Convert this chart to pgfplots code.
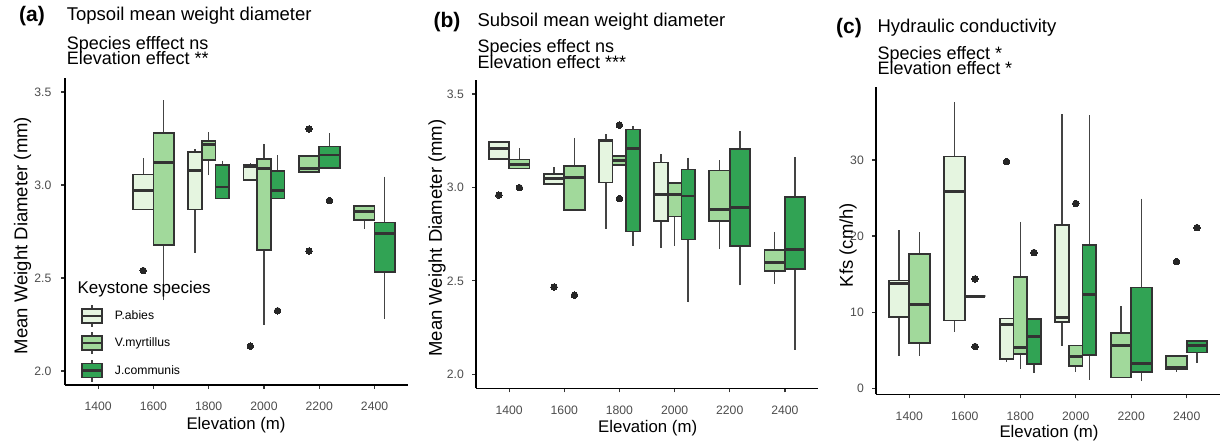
\documentclass[border=0pt]{standalone}
\usepackage{pgfplots}
\pgfplotsset{compat=1.18}
\usepgfplotslibrary{statistics}
\usepackage{fontspec}
\setmainfont{Liberation Sans}
\definecolor{pA}{HTML}{E5F5E0}
\definecolor{pV}{HTML}{A1D99B}
\definecolor{pJ}{HTML}{31A354}
\definecolor{edge}{HTML}{333333}
\definecolor{whisk}{HTML}{444444}
\definecolor{labc}{HTML}{4D4D4D}
\definecolor{dotc}{HTML}{262626}
\newcommand{\bx}[8]{\addplot[bxs, fill=#1, boxplot prepared={draw position=#2, box extend=#3, lower whisker=#4, lower quartile=#5, median=#6, upper quartile=#7, upper whisker=#8}] coordinates {};}
\pgfplotsset{
  bxs/.style={forget plot, draw=edge, line width=1.7pt, solid, mark=none,
    boxplot/draw direction=y, boxplot/whisker extend=0,
    boxplot/every box/.style={draw=edge, line width=1.7pt},
    boxplot/every whisker/.style={line width=1.4pt, draw=whisk},
    boxplot/every median/.style={draw=edge, line width=2.9pt}},
  outl/.style={forget plot, only marks, mark=*, mark size=3.3pt, mark options={fill=dotc, draw=dotc, line width=0pt}},
  panel/.style={scale only axis, anchor=south west,
    xmin=1280, xmax=2520,
    axis x line*=bottom, axis y line*=left,
    axis line style={black, line width=1.3pt, -},
    tick align=outside, major tick length=4pt,
    tick style={color=edge, line width=1.2pt},
    xtick={1400,1600,1800,2000,2200,2400},
    xticklabels={1400,1600,1800,2000,2200,2400},
    tick label style={font=\fontsize{12.2}{14}\selectfont, text=labc, inner sep=0pt},
    xticklabel style={anchor=base, yshift=-22pt},
    clip=false},
  boxkey/.style={legend image code/.code={
    \draw[draw=whisk, line width=1.4pt] (10pt,-11pt)--(10pt,11pt);
    \draw[fill=#1, draw=edge, line width=1.7pt] (0pt,-7pt) rectangle (20pt,7pt);
    \draw[draw=edge, line width=2.4pt] (0pt,0pt)--(20pt,0pt);}}
}
\begin{document}
\begin{tikzpicture}[x=1pt,y=1pt]
\path[use as bounding box] (0,0) rectangle (1222,446);
% ---------------- (a)
\begin{axis}[panel, at={(65pt,61pt)}, width=342.7pt, height=307pt,
  ymin=1.925, ymax=3.575, ytick={2,2.5,3,3.5}, yticklabels={2.0,2.5,3.0,3.5},
  yticklabel style={anchor=east, xshift=-9.5pt},
  legend style={at={(axis description cs:0.0458,0.264)}, anchor=north west, draw=none, fill=none,
    inner sep=0pt, row sep=4pt, column sep=11.7pt,
    nodes={inner sep=0pt, anchor=west, font=\fontsize{12.2}{14}\selectfont}},
  legend cell align=left]
\bx{pA}{1563}{74}{2.869}{2.869}{2.968}{3.057}{3.147}
\bx{pV}{1637}{74}{2.380}{2.677}{3.120}{3.280}{3.455}
\bx{pA}{1750.67}{49.33}{2.636}{2.869}{3.079}{3.176}{3.195}
\bx{pV}{1800}{49.33}{3.052}{3.133}{3.219}{3.237}{3.283}
\bx{pJ}{1849.33}{49.33}{2.928}{2.928}{2.989}{3.106}{3.131}
\bx{pA}{1950.67}{49.33}{3.027}{3.027}{3.100}{3.106}{3.118}
\bx{pV}{2000}{49.33}{2.249}{2.652}{3.090}{3.138}{3.222}
\bx{pJ}{2049.33}{49.33}{2.928}{2.928}{2.968}{3.077}{3.161}
\bx{pV}{2163}{74}{3.070}{3.070}{3.088}{3.156}{3.156}
\bx{pJ}{2237}{74}{3.093}{3.093}{3.161}{3.206}{3.278}
\bx{pV}{2363}{74}{2.765}{2.812}{2.857}{2.887}{2.892}
\bx{pJ}{2437}{74}{2.280}{2.534}{2.738}{2.799}{3.045}
\addplot[outl] coordinates {(1563,2.54) (1950.67,2.134) (2049.33,2.324) (2163,3.301) (2163,2.645) (2237,2.916)};
\addlegendimage{boxkey=pA}\addlegendentry{P.abies}
\addlegendimage{boxkey=pV}\addlegendentry{V.myrtillus}
\addlegendimage{boxkey=pJ}\addlegendentry{J.communis}
\node[anchor=base west, font=\fontsize{17}{20}\selectfont, inner sep=0pt] at (axis description cs:0.036,0.2987) {Keystone species};
\end{axis}
% ---------------- (b)
\begin{axis}[panel, at={(476pt,57.7pt)}, width=342pt, height=308.3pt,
  ymin=1.925, ymax=3.575, ytick={2,2.5,3,3.5}, yticklabels={2.0,2.5,3.0,3.5},
  yticklabel style={anchor=east, xshift=-8pt}]
\bx{pA}{1363}{74}{3.151}{3.151}{3.208}{3.244}{3.246}
\bx{pV}{1437}{74}{3.101}{3.101}{3.121}{3.149}{3.210}
\bx{pA}{1563}{74}{3.020}{3.020}{3.049}{3.072}{3.112}
\bx{pV}{1637}{74}{2.881}{2.881}{3.053}{3.113}{3.267}
\bx{pA}{1750.67}{49.33}{2.777}{3.027}{3.253}{3.255}{3.285}
\bx{pV}{1800}{49.33}{3.121}{3.121}{3.142}{3.169}{3.169}
\bx{pJ}{1849.33}{49.33}{2.686}{2.764}{3.206}{3.310}{3.330}
\bx{pA}{1950.67}{49.33}{2.678}{2.820}{2.961}{3.133}{3.180}
\bx{pV}{2000}{49.33}{2.686}{2.845}{2.961}{3.022}{3.026}
\bx{pJ}{2049.33}{49.33}{2.385}{2.721}{2.954}{3.096}{3.160}
\bx{pV}{2163}{74}{2.668}{2.820}{2.883}{3.090}{3.146}
\bx{pJ}{2237}{74}{2.476}{2.686}{2.895}{3.205}{3.303}
\bx{pV}{2363}{74}{2.485}{2.551}{2.600}{2.666}{2.763}
\bx{pJ}{2437}{74}{2.131}{2.562}{2.666}{2.949}{3.162}
\addplot[outl] coordinates {(1363,2.959) (1437,2.999) (1563,2.467) (1637,2.424) (1800,3.334) (1800,2.940)};
\end{axis}
% ---------------- (c)
\begin{axis}[panel, at={(876pt,51.7pt)}, width=344pt, height=307pt,
  ymin=-0.8, ymax=39.55, ytick={0,10,20,30}, yticklabels={0,10,20,30},
  yticklabel style={anchor=east, xshift=-8pt}]
\bx{pA}{1363}{74}{4.25}{9.33}{13.71}{14.15}{20.8}
\bx{pV}{1437}{74}{4.25}{5.91}{10.95}{17.6}{20.5}
\bx{pA}{1563}{74}{7.45}{8.89}{25.84}{30.44}{37.6}
\bx{pJ}{1637}{74}{12.09}{12.09}{12.09}{12.09}{12.09}
\bx{pA}{1750.67}{49.33}{3.5}{3.81}{8.41}{9.15}{9.15}
\bx{pV}{1800}{49.33}{2.58}{4.51}{5.34}{14.59}{21.9}
\bx{pJ}{1849.33}{49.33}{1.97}{3.15}{6.83}{9.07}{9.07}
\bx{pA}{1950.67}{49.33}{5.61}{8.72}{9.24}{21.46}{36.05}
\bx{pV}{2000}{49.33}{2.15}{2.93}{4.16}{5.61}{5.61}
\bx{pJ}{2049.33}{49.33}{1.10}{4.38}{12.35}{18.79}{35.87}
\bx{pV}{2163}{74}{1.40}{1.40}{5.61}{7.23}{10.82}
\bx{pJ}{2237}{74}{0.92}{2.10}{3.24}{13.23}{24.92}
\bx{pV}{2363}{74}{2.19}{2.54}{2.76}{4.25}{4.25}
\bx{pJ}{2437}{74}{3.37}{4.69}{5.61}{6.22}{6.22}
\addplot[outl] coordinates {(1637,14.37) (1637,5.48) (1750.67,29.79) (1849.33,17.83) (2000,24.27) (2363,16.64) (2437,21.11)};
\end{axis}
% ---------------- texts
\tikzset{ttl/.style={anchor=base west, inner sep=0pt, font=\fontsize{18.5}{20}\selectfont},
  sub/.style={anchor=base west, inner sep=0pt, font=\fontsize{18}{20}\selectfont},
  tag/.style={anchor=base west, inner sep=0pt, font=\fontsize{21}{24}\selectfont\bfseries},
  xl/.style={anchor=base, inner sep=0pt, font=\fontsize{16.8}{19}\selectfont},
  yl/.style={anchor=center, inner sep=0pt, rotate=90, font=\fontsize{18.5}{20}\selectfont}}
\node[tag] at (19,424.3) {(a)};
\node[ttl] at (66.7,425.3) {Topsoil mean weight diameter};
\node[sub] at (66.7,396.7) {Species efffect ns};
\node[sub] at (66.7,381) {Elevation effect **};
\node[tag] at (433.3,418.7) {(b)};
\node[ttl] at (477.3,419.3) {Subsoil mean weight diameter};
\node[sub] at (477.3,393.7) {Species effect ns};
\node[sub] at (477.3,377.7) {Elevation effect ***};
\node[tag] at (836,412.7) {(c)};
\node[ttl] at (877.3,413.7) {Hydraulic conductivity};
\node[sub] at (877.3,386.7) {Species effect *};
\node[sub] at (877.3,371) {Elevation effect *};
\node[xl] at (236,16.7) {Elevation (m)};
\node[xl] at (647.7,13.7) {Elevation (m)};
\node[xl] at (1049,8.3) {Elevation (m)};
\node[yl] at (22.5,210.5) {Mean Weight Diameter (mm)};
\node[yl] at (437,208) {Mean Weight Diameter (mm)};
\node[yl] at (848,201) {Kfs (cm/h)};
\end{tikzpicture}
\end{document}
